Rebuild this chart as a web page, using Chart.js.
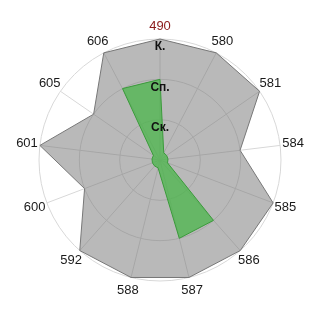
<!DOCTYPE html>
<html>
<head>
<meta charset="utf-8">
<script src="https://cdn.jsdelivr.net/npm/chart.js@4"></script>
<style>
html,body{margin:0;padding:0;background:#fff;}
#wrap{width:320px;height:320px;}
</style>
</head>
<body>
<div id="wrap"><canvas id="c" width="320" height="320"></canvas></div>
<script>
const categories = ['490','580','581','584','585','586','587','588','592','600','601','605','606'];
const seriesGray = [3,3,3,2,3,3,3,3,3,2,3,2,3];
const seriesGreen = [2,0.2,0.2,0.2,0.2,2,2,0.2,0.2,0.2,0.2,0.2,2];
const tickLabels = {1:'Ск.', 2:'Сп.', 3:'К.'};
const labelColors = categories.map((c, i) => i === 0 ? '#8b1a1a' : '#1a1a1a');

const labelPlugin = {
  id: 'outerLabels',
  afterDraw(chart) {
    const s = chart.scales.r;
    const ctx = chart.ctx;
    ctx.save();
    ctx.font = '13px "Liberation Sans", Arial, sans-serif';
    ctx.textAlign = 'center';
    ctx.textBaseline = 'middle';
    categories.forEach((lab, i) => {
      const p = s.getPointPosition(i, s.drawingArea + 13);
      ctx.fillStyle = labelColors[i];
      ctx.fillText(lab, p.x, p.y);
    });
    ctx.restore();
  }
};

new Chart(document.getElementById('c'), {
  type: 'radar',
  data: {
    labels: categories,
    datasets: [
      {
        data: seriesGray,
        order: 2,
        backgroundColor: 'rgba(120,120,120,0.52)',
        borderColor: '#777777',
        borderWidth: 1,
        pointRadius: 0,
        fill: true
      },
      {
        data: seriesGreen,
        order: 1,
        backgroundColor: 'rgba(78,182,78,0.78)',
        borderColor: '#3a9a3a',
        borderWidth: 1,
        pointRadius: 0,
        fill: true
      }
    ]
  },
  plugins: [labelPlugin],
  options: {
    responsive: false,
    animation: false,
    layout: {padding: 33},
    plugins: {legend: {display: false}, tooltip: {enabled: false}},
    scales: {
      r: {
        min: 0,
        max: 3,
        ticks: {
          stepSize: 1,
          z: 1,
          showLabelBackdrop: false,
          backdropPadding: 0,
          color: '#111',
          font: {family: 'Liberation Sans, Arial', size: 12, weight: 'bold', lineHeight: '8px'},
          callback: (v) => tickLabels[v] ? ['', tickLabels[v]] : ''
        },
        grid: {color: '#d8d8d8', lineWidth: 1, circular: true},
        angleLines: {color: '#d8d8d8', lineWidth: 1},
        pointLabels: {display: false}
      }
    }
  }
});
</script>
</body>
</html>
